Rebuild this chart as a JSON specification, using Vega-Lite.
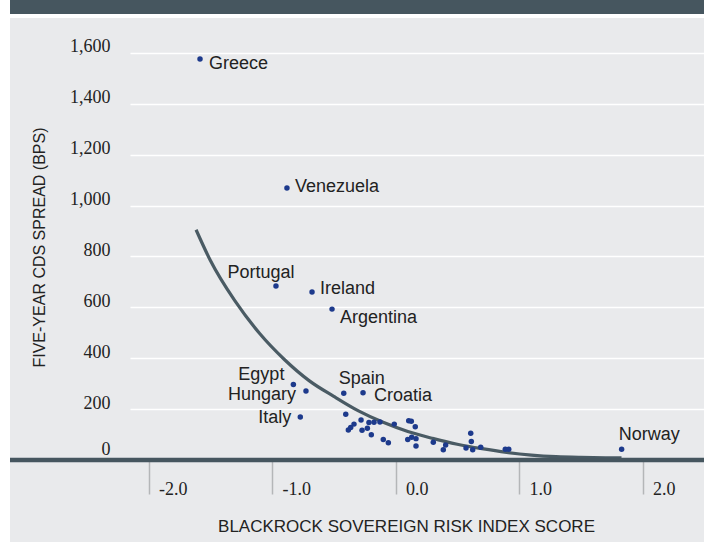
{
  "$schema": "https://vega.github.io/schema/vega-lite/v6.json",
  "autosize": "none",
  "width": 574,
  "height": 430,
  "padding": {"left": 130, "top": 30, "right": 0, "bottom": 82},
  "background": "#e9eaec",
  "config": {"view": {"stroke": null}},
  "datasets": {
    "points": [
      {"score": -1.583, "spread": 1576, "country": "Greece"},
      {"score": -0.879, "spread": 1069, "country": "Venezuela"},
      {"score": -0.968, "spread": 684, "country": "Portugal"},
      {"score": -0.676, "spread": 660, "country": "Ireland"},
      {"score": -0.514, "spread": 593, "country": "Argentina"},
      {"score": -0.827, "spread": 297, "country": "Egypt"},
      {"score": -0.725, "spread": 271, "country": "Hungary"},
      {"score": -0.771, "spread": 169, "country": "Italy"},
      {"score": -0.419, "spread": 262, "country": "Spain"},
      {"score": -0.263, "spread": 264, "country": "Croatia"},
      {"score": 1.831, "spread": 42, "country": "Norway"},
      {"score": -0.403, "spread": 180, "country": null},
      {"score": -0.382, "spread": 118, "country": null},
      {"score": -0.363, "spread": 128, "country": null},
      {"score": -0.336, "spread": 141, "country": null},
      {"score": -0.279, "spread": 157, "country": null},
      {"score": -0.271, "spread": 117, "country": null},
      {"score": -0.228, "spread": 125, "country": null},
      {"score": -0.215, "spread": 147, "country": null},
      {"score": -0.174, "spread": 148, "country": null},
      {"score": -0.196, "spread": 99, "country": null},
      {"score": -0.126, "spread": 149, "country": null},
      {"score": -0.099, "spread": 81, "country": null},
      {"score": -0.058, "spread": 68, "country": null},
      {"score": -0.010, "spread": 141, "country": null},
      {"score": 0.107, "spread": 154, "country": null},
      {"score": 0.128, "spread": 152, "country": null},
      {"score": 0.160, "spread": 131, "country": null},
      {"score": 0.099, "spread": 81, "country": null},
      {"score": 0.131, "spread": 89, "country": null},
      {"score": 0.166, "spread": 84, "country": null},
      {"score": 0.166, "spread": 55, "country": null},
      {"score": 0.306, "spread": 70, "country": null},
      {"score": 0.387, "spread": 40, "country": null},
      {"score": 0.406, "spread": 59, "country": null},
      {"score": 0.571, "spread": 47, "country": null},
      {"score": 0.609, "spread": 105, "country": null},
      {"score": 0.614, "spread": 73, "country": null},
      {"score": 0.625, "spread": 40, "country": null},
      {"score": 0.690, "spread": 50, "country": null},
      {"score": 0.889, "spread": 42, "country": null},
      {"score": 0.917, "spread": 42, "country": null}
    ],
    "curve": [
      {"score": -1.615, "spread": 905},
      {"score": -1.5, "spread": 785},
      {"score": -1.3, "spread": 625},
      {"score": -1.1, "spread": 497},
      {"score": -0.9, "spread": 395},
      {"score": -0.7, "spread": 312},
      {"score": -0.5, "spread": 250},
      {"score": -0.3, "spread": 193},
      {"score": -0.1, "spread": 148},
      {"score": 0.1, "spread": 112},
      {"score": 0.3, "spread": 85},
      {"score": 0.5, "spread": 62},
      {"score": 0.7, "spread": 44.5},
      {"score": 0.9, "spread": 30},
      {"score": 1.1, "spread": 19.5},
      {"score": 1.3, "spread": 13},
      {"score": 1.5, "spread": 10},
      {"score": 1.7, "spread": 8.5},
      {"score": 1.83, "spread": 8}
    ]
  },
  "layer": [
    {
      "data": {"values": [{}]},
      "mark": {"type": "rect", "fill": "#ffffff"},
      "encoding": {
        "x": {"datum": -3.3, "type": "quantitative", "scale": {"domain": [-2.15, 2.498], "nice": false, "zero": false}},
        "x2": {"datum": -3.1217},
        "y": {"datum": -400, "type": "quantitative", "scale": {"domain": [0, 1690], "nice": false, "zero": false}},
        "y2": {"datum": 1900}
      }
    },
    {
      "data": {"values": [{}]},
      "mark": {"type": "rect", "fill": "#ffffff"},
      "encoding": {
        "x": {"datum": -3.3, "type": "quantitative"},
        "x2": {"datum": 2.6},
        "y": {"datum": 1737.2, "type": "quantitative"},
        "y2": {"datum": 1900}
      }
    },
    {
      "data": {"values": [{}]},
      "mark": {"type": "rect", "fill": "#46565f"},
      "encoding": {
        "x": {"datum": -3.1217, "type": "quantitative"},
        "x2": {"datum": 2.6},
        "y": {"datum": 1752.9, "type": "quantitative"},
        "y2": {"datum": 1900}
      }
    },
    {
      "data": {"name": "curve"},
      "mark": {"type": "line", "color": "#4a5b64", "strokeWidth": 3.2, "interpolate": "monotone"},
      "encoding": {
        "x": {
          "field": "score", "type": "quantitative",
          "axis": {
            "values": [-2, -1, 0, 1, 2],
            "format": ".1f",
            "labelExpr": "replace(datum.label, '\u2212', '-')",
            "domain": false,
            "grid": false,
            "ticks": true,
            "tickSize": 34,
            "tickColor": "#b4b6b8",
            "tickWidth": 1.5,
            "labelFlush": false,
            "labelAlign": "left",
            "labelBaseline": "alphabetic",
            "labelOffset": 10,
            "labelPadding": 0,
            "labelFont": "Liberation Serif",
            "labelFontSize": 18,
            "labelColor": "#222222",
            "title": "BLACKROCK SOVEREIGN RISK INDEX SCORE",
            "titleFont": "Liberation Sans",
            "titleFontSize": 17,
            "titleFontWeight": "normal",
            "titleColor": "#222222",
            "titleX": 276,
            "titleY": 71,
            "titleAlign": "center",
            "titleBaseline": "alphabetic"
          }
        },
        "y": {
          "field": "spread", "type": "quantitative",
          "axis": {
            "values": [0, 200, 400, 600, 800, 1000, 1200, 1400, 1600],
            "format": ",d",
            "domain": false,
            "ticks": false,
            "grid": true,
            "gridColor": "#ffffff",
            "gridWidth": 1.3,
            "labelPadding": 20,
            "labelFont": "Liberation Serif",
            "labelFontSize": 18,
            "labelColor": "#222222",
            "labelBaseline": "alphabetic",
            "labelOffset": {"condition": {"test": "datum.value === 0", "value": -6}, "value": -1},
            "title": "FIVE-YEAR CDS SPREAD (BPS)",
            "titleFont": "Liberation Sans",
            "titleFontSize": 16,
            "titleFontWeight": "normal",
            "titleColor": "#222222",
            "titleAngle": -90,
            "titleX": -91,
            "titleY": 217,
            "titleAlign": "center",
            "titleBaseline": "middle"
          }
        }
      }
    },
    {
      "data": {"values": [{}]},
      "mark": {"type": "rule", "color": "#46565f", "strokeWidth": 4.4},
      "encoding": {
        "x": {"datum": -3.1217, "type": "quantitative"},
        "x2": {"datum": 2.6},
        "y": {"datum": 0, "type": "quantitative"}
      }
    },
    {
      "data": {"name": "points"},
      "mark": {"type": "circle", "color": "#1d3a8c", "size": 30, "opacity": 1},
      "encoding": {
        "x": {"field": "score", "type": "quantitative"},
        "y": {"field": "spread", "type": "quantitative"}
      }
    },
    {
      "data": {"name": "points"},
      "transform": [{"filter": "datum.country != null"}],
      "mark": {
        "type": "text",
        "font": "Liberation Sans",
        "fontSize": 18,
        "color": "#222222",
        "align": {"expr": "indexof(['Egypt','Hungary','Italy'], datum.country) >= 0 ? 'right' : (datum.country === 'Portugal' ? 'center' : 'left')"},
        "baseline": {"expr": "indexof(['Portugal','Spain','Norway'], datum.country) >= 0 ? 'alphabetic' : 'middle'"},
        "dx": {"expr": "{'Greece':9,'Venezuela':8,'Ireland':8,'Argentina':8,'Croatia':11,'Egypt':-9,'Hungary':-10,'Italy':-9,'Portugal':-15,'Spain':-5,'Norway':-3}[datum.country]"},
        "dy": {"expr": "{'Greece':5,'Venezuela':-1,'Ireland':-3,'Argentina':9,'Croatia':3,'Egypt':-9,'Hungary':4,'Italy':1,'Portugal':-8,'Spain':-9,'Norway':-9}[datum.country]"}
      },
      "encoding": {
        "x": {"field": "score", "type": "quantitative"},
        "y": {"field": "spread", "type": "quantitative"},
        "text": {"field": "country"}
      }
    }
  ]
}
